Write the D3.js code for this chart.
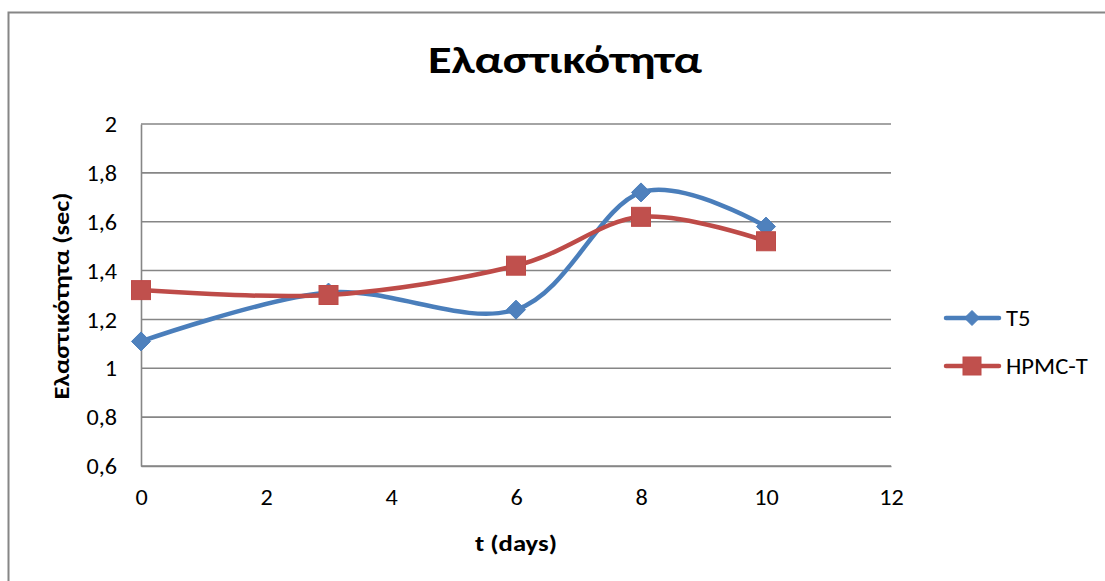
<!DOCTYPE html>
<html>
<head>
<meta charset="utf-8">
<script src="https://cdn.jsdelivr.net/npm/d3@7"></script>
<style>
  html, body { margin: 0; padding: 0; background: #fff; }
  svg { display: block; }
  text { font-family: Carlito, Calibri, Lato, "Open Sans", sans-serif; fill: #000; }
</style>
</head>
<body>
<svg id="chart" width="1105" height="581"></svg>
<script>
// Elasticity measurements over storage time
const days = [0, 3, 6, 8, 10];
const t5Values = [1.11, 1.31, 1.24, 1.72, 1.58];
const hpmcValues = [1.32, 1.30, 1.42, 1.62, 1.52];
const seriesNames = ["T5", "HPMC-T"];
const xTicks = [0, 2, 4, 6, 8, 10, 12];
const yTicks = [0.6, 0.8, 1.0, 1.2, 1.4, 1.6, 1.8, 2.0];

const series = [
  { name: seriesNames[0], values: t5Values, line: "#4A7EBB", fill: "#4F81BD", marker: "diamond" },
  { name: seriesNames[1], values: hpmcValues, line: "#BE4B48", fill: "#C0504D", marker: "square" }
];

const svg = d3.select("#chart");

// Widen glyphs horizontally by factor k, keeping the anchor point
function widen(sel, k) {
  sel.each(function () {
    const w = this.getComputedTextLength();
    d3.select(this).attr("textLength", w * k).attr("lengthAdjust", "spacingAndGlyphs");
  });
}
function fitWidth(sel, width) {
  sel.attr("textLength", width).attr("lengthAdjust", "spacingAndGlyphs");
}

// Chart-area frame (extends past the right and bottom edges)
svg.append("rect")
  .attr("x", 8.5).attr("y", 12.5)
  .attr("width", 1200).attr("height", 700)
  .attr("fill", "#fff").attr("stroke", "#868686").attr("stroke-width", 2);

const plot = { left: 141, right: 891, top: 124, bottom: 466 };

const x = d3.scaleLinear().domain([0, 12]).range([plot.left, plot.right]);
const y = d3.scaleLinear().domain([0.6, 2.0]).range([plot.bottom, plot.top]);

const fmt = v => d3.format("~g")(+v.toFixed(1)).replace(".", ",");

// Horizontal gridlines
svg.append("g")
  .selectAll("line")
  .data(yTicks)
  .join("line")
  .attr("x1", plot.left).attr("x2", plot.right)
  .attr("y1", d => y(d)).attr("y2", d => y(d))
  .attr("stroke", "#868686").attr("stroke-width", 1.6);

// Y axis
const yAxis = svg.append("g")
  .attr("transform", `translate(${plot.left},0)`)
  .call(d3.axisLeft(y).tickValues(yTicks).tickFormat(fmt).tickSize(0).tickPadding(24));
yAxis.select(".domain").attr("stroke", "#868686").attr("stroke-width", 1.6);
yAxis.selectAll("text").attr("font-size", 22).attr("dy", "0.35em").call(widen, 1.1);

// X axis
const xAxis = svg.append("g")
  .attr("transform", `translate(0,${plot.bottom})`)
  .call(d3.axisBottom(x).tickValues(xTicks).tickFormat(d3.format("d")).tickSize(0).tickPadding(23));
xAxis.select(".domain").attr("stroke", "#868686").attr("stroke-width", 1.6);
xAxis.selectAll("text").attr("font-size", 22).call(widen, 1.1);

// Title and axis titles
svg.append("text")
  .attr("x", 565).attr("y", 73)
  .attr("text-anchor", "middle")
  .attr("font-size", 38).attr("font-weight", "bold")
  .text("Ελαστικότητα")
  .call(fitWidth, 274);

svg.append("text")
  .attr("x", 516).attr("y", 551)
  .attr("text-anchor", "middle")
  .attr("font-size", 23).attr("font-weight", "bold")
  .text("t (days)")
  .call(fitWidth, 82);

svg.append("text")
  .attr("transform", "translate(69,296) rotate(-90)")
  .attr("text-anchor", "middle")
  .attr("font-size", 23).attr("font-weight", "bold")
  .text("Ελαστικότητα (sec)")
  .call(fitWidth, 207);

// Smoothed series lines
const line = d3.line()
  .x(d => x(d[0]))
  .y(d => y(d[1]))
  .curve(d3.curveCatmullRom.alpha(0));

function drawMarker(g, type, cx, cy, size, s) {
  if (type === "diamond") {
    const r = size / 2;
    g.append("path")
      .attr("d", `M${cx},${cy - r}L${cx + r},${cy}L${cx},${cy + r}L${cx - r},${cy}Z`)
      .attr("fill", s.fill).attr("stroke", s.line).attr("stroke-width", 1);
  } else {
    g.append("rect")
      .attr("x", cx - size / 2).attr("y", cy - size / 2)
      .attr("width", size).attr("height", size)
      .attr("fill", s.fill).attr("stroke", s.line).attr("stroke-width", 1);
  }
}

series.forEach(s => {
  const pts = days.map((d, i) => [d, s.values[i]]);
  const g = svg.append("g");
  g.append("path")
    .attr("d", line(pts))
    .attr("fill", "none")
    .attr("stroke", s.line)
    .attr("stroke-width", 4.5)
    .attr("stroke-linecap", "round");
  pts.forEach(p => {
    drawMarker(g, s.marker, x(p[0]), y(p[1]), 19, s);
  });
});

// Legend
const legendY = [318, 366];
series.forEach((s, i) => {
  const g = svg.append("g");
  g.append("line")
    .attr("x1", 946).attr("x2", 999)
    .attr("y1", legendY[i]).attr("y2", legendY[i])
    .attr("stroke", s.line).attr("stroke-width", 4.5)
    .attr("stroke-linecap", "round");
  drawMarker(g, s.marker, 972, legendY[i], s.marker === "diamond" ? 15 : 18, s);
  g.append("text")
    .attr("x", 1006).attr("y", legendY[i])
    .attr("dy", "0.35em")
    .attr("font-size", 22)
    .text(s.name)
    .call(widen, 1.12);
});
</script>
</body>
</html>
